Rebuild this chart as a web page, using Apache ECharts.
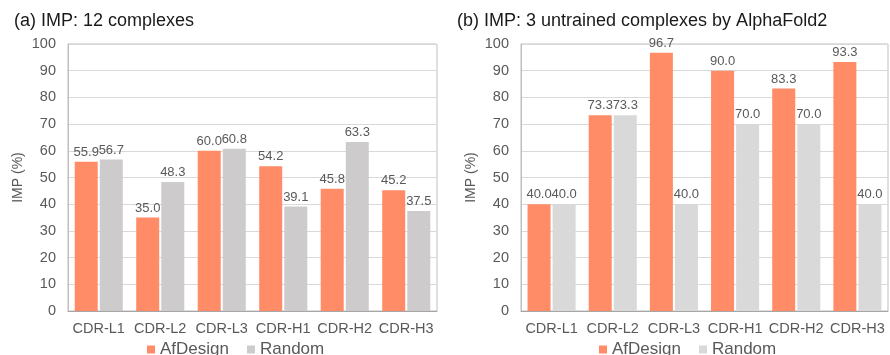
<!DOCTYPE html>
<html>
<head>
<meta charset="utf-8">
<script src="https://cdn.jsdelivr.net/npm/echarts@6/dist/echarts.min.js"></script>
<style>
  html, body { margin: 0; padding: 0; background: #fff; }
  #chart { width: 890px; height: 355px; }
</style>
</head>
<body>
<div id="chart"></div>
<script>
// data
var categories = ['CDR-L1', 'CDR-L2', 'CDR-L3', 'CDR-H1', 'CDR-H2', 'CDR-H3'];
var afDesignA = [55.9, 35.0, 60.0, 54.2, 45.8, 45.2];
var randomA = [56.7, 48.3, 60.8, 39.1, 63.3, 37.5];
var afDesignB = [40.0, 73.3, 96.7, 90.0, 83.3, 93.3];
var randomB = [40.0, 73.3, 40.0, 70.0, 70.0, 40.0];
var yTicks = [0, 10, 20, 30, 40, 50, 60, 70, 80, 90, 100];

var chart = echarts.init(document.getElementById('chart'));
var FONT = 'Liberation Sans, Arial, sans-serif';
var ORANGE = '#FF8C66';
var GRAY_A = '#CDCBCB';
var GRAY_B = '#D9D9D9';

function xAxisFor(idx) {
	return {
		type: 'category',
		gridIndex: idx,
		data: categories,
		axisTick: { show: false },
		axisLine: { lineStyle: { color: '#A6A6A6', width: 1 } },
		axisLabel: { color: '#595959', fontSize: 14.5, fontFamily: FONT, margin: 10, interval: 0 }
	};
}
function yAxisFor(idx) {
	return {
		type: 'value',
		gridIndex: idx,
		min: yTicks[0],
		max: yTicks[yTicks.length - 1],
		interval: 10,
		name: 'IMP (%)',
		nameLocation: 'middle',
		nameGap: 43,
		nameTextStyle: { color: '#595959', fontSize: 14, fontFamily: FONT },
		axisLine: { show: true, lineStyle: { color: '#BFBFBF' } },
		axisTick: { show: false },
		axisLabel: { color: '#595959', fontSize: 14.5, fontFamily: FONT, margin: 12 },
		splitLine: { lineStyle: { color: '#D9D9D9' } }
	};
}
function barSeries(name, data, color, idx) {
	return {
		name: name,
		type: 'bar',
		xAxisIndex: idx,
		yAxisIndex: idx,
		data: data,
		barWidth: 23,
		barGap: '9%',
		itemStyle: { color: color },
		label: {
			show: true,
			position: 'top',
			distance: 3,
			color: '#595959',
			fontSize: 13,
			fontFamily: FONT,
			formatter: function (p) { return p.value.toFixed(1); }
		}
	};
}

var option = {
	animation: false,
	title: [
		{ text: '(a) IMP: 12 complexes', left: 9, top: 7,
		  textStyle: { color: '#1a1a1a', fontSize: 18, fontWeight: 'normal', fontFamily: FONT } },
		{ text: '(b) IMP: 3 untrained complexes by AlphaFold2', left: 452, top: 7,
		  textStyle: { color: '#1a1a1a', fontSize: 18, fontWeight: 'normal', fontFamily: FONT } }
	],
	legend: [
		{ left: 142, top: 336, itemWidth: 8, itemHeight: 8, itemGap: 18, icon: 'rect',
		  textStyle: { color: '#595959', fontSize: 17, fontFamily: FONT },
		  data: [{ name: 'AfDesign', itemStyle: { color: ORANGE } }, { name: 'Random', itemStyle: { color: GRAY_A } }] },
		{ left: 594, top: 336, itemWidth: 8, itemHeight: 8, itemGap: 18, icon: 'rect',
		  textStyle: { color: '#595959', fontSize: 17, fontFamily: FONT },
		  data: [{ name: 'AfDesign', itemStyle: { color: ORANGE } }, { name: 'Random', itemStyle: { color: GRAY_B } }] }
	],
	grid: [
		{ left: 68, top: 44, width: 369, height: 267, show: true, borderColor: '#BFBFBF', borderWidth: 1 },
		{ left: 521, top: 44, width: 367, height: 267, show: true, borderColor: '#BFBFBF', borderWidth: 1 }
	],
	xAxis: [xAxisFor(0), xAxisFor(1)],
	yAxis: [yAxisFor(0), yAxisFor(1)],
	series: [
		barSeries('AfDesign', afDesignA, ORANGE, 0),
		barSeries('Random', randomA, GRAY_A, 0),
		barSeries('AfDesign', afDesignB, ORANGE, 1),
		barSeries('Random', randomB, GRAY_B, 1)
	]
};
chart.setOption(option);
</script>
</body>
</html>
